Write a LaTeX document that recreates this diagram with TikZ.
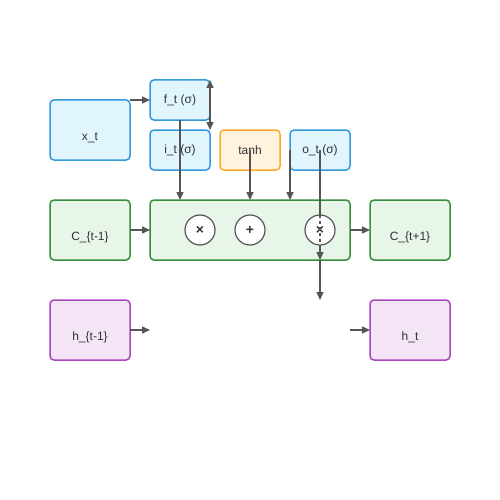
\documentclass[tikz,border=0pt]{standalone}
\usepackage{fontspec}
\setmainfont{Liberation Sans}
\usetikzlibrary{arrows.meta, positioning, calc}
\definecolor{gateblue}{HTML}{3498DB}
\definecolor{gatefill}{HTML}{E1F5FE}
\definecolor{tanhorange}{HTML}{FFA726}
\definecolor{tanhfill}{HTML}{FFF3E0}
\definecolor{cellgreen}{HTML}{388E3C}
\definecolor{cellfill}{HTML}{E8F5E9}
\definecolor{hidpurple}{HTML}{AB47BC}
\definecolor{hidfill}{HTML}{F3E5F5}
\definecolor{arrgray}{HTML}{555555}
\definecolor{txtgray}{HTML}{333333}

\newcommand{\lowtxt}[1]{\raisebox{-10pt}[0pt][0pt]{#1}}

\tikzset{
	box/.style={rectangle, rounded corners=4pt, line width=1.5pt, outer sep=0pt, inner sep=0pt, text=txtgray, font=\fontsize{12}{14}\selectfont},
	bluebox/.style={box, draw=gateblue, fill=gatefill},
	orangebox/.style={box, draw=tanhorange, fill=tanhfill},
	greenbox/.style={box, draw=cellgreen, fill=cellfill},
	purplebox/.style={box, draw=hidpurple, fill=hidfill},
	opcircle/.style={circle, draw=arrgray, fill=white, line width=1.2pt, minimum size=30pt, inner sep=0pt, outer sep=0pt, text=txtgray, font=\fontsize{14}{16}\selectfont\bfseries},
	arr/.style={draw=arrgray, line width=1.5pt, -{Triangle[length=8pt,width=7pt]}},
}

\begin{document}
\begin{tikzpicture}[x=1pt, y=-1pt]
	\useasboundingbox (0,0) rectangle (500,500);
	% inputs and gates
	\node[bluebox, minimum width=80pt, minimum height=60pt] (xt) at (90,130) {\lowtxt{x\_t}};
	\node[bluebox, minimum width=60pt, minimum height=40pt] (ft) at (180,100) {f\_t (σ)};
	\node[bluebox, minimum width=60pt, minimum height=40pt] (it) at (180,150) {i\_t (σ)};
	\node[orangebox, minimum width=60pt, minimum height=40pt] (tanh) at (250,150) {tanh};
	\node[bluebox, minimum width=60pt, minimum height=40pt] (ot) at (320,150) {o\_t (σ)};
	
	% cell state row
	\node[greenbox, minimum width=80pt, minimum height=60pt] (cprev) at (90,230) {\lowtxt{C\_\{t-1\}}};
	\node[greenbox, minimum width=200pt, minimum height=60pt] (cell) at (250,230) {};
	\node[greenbox, minimum width=80pt, minimum height=60pt] (cnext) at (410,230) {\lowtxt{C\_\{t+1\}}};
	
	% hidden state row
	\node[purplebox, minimum width=80pt, minimum height=60pt] (hprev) at (90,330) {\lowtxt{h\_\{t-1\}}};
	\node[purplebox, minimum width=80pt, minimum height=60pt] (hnext) at (410,330) {\lowtxt{h\_t}};
	\coordinate (hin) at (150,330);
	\coordinate (hgo) at (350,330);
	\coordinate (hout) at (320,300);
	
	\draw[arr] (xt.north east) -- (ft.west);
	\draw[arr, {Triangle[length=8pt,width=7pt]}-{Triangle[length=8pt,width=7pt]}] (ft.north east) -- (it.north east);
	\draw[arr] (ft.south) -- (ft.south |- cell.north);
	\draw[arr] (tanh.center) -- (tanh.center |- cell.north);
	\draw[arr] (ot.west) -- (ot.west |- cell.north);
	\draw[arr] (ot.center) -- (ot.center |- cell.south);
	\draw[arr] (ot.center |- cell.south) -- (hout);
	\draw[arr] (cprev.east) -- (cell.west);
	\draw[arr] (cell.east) -- (cnext.west);
	\draw[arr] (hprev.east) -- (hin);
	\draw[arr] (hgo) -- (hnext.west);
	
	% operations
	\node[opcircle] (mulf) at (200,230) {×};
	\node[opcircle] (addc) at (250,230) {+};
	\node[opcircle] (mulo) at (320,230) {×};
	\draw[arrgray, line width=1.5pt, dashed] (mulo.north) -- (mulo.south);
\end{tikzpicture}
\end{document}
